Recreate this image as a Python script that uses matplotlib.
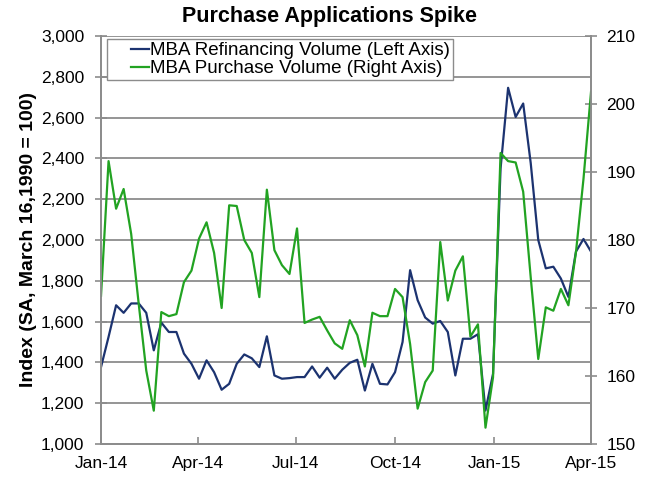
import datetime as dt

import matplotlib as mplt
mplt.use("Agg")
import matplotlib.pyplot as plt
import matplotlib.dates as mdates
from matplotlib.ticker import FuncFormatter

mplt.rcParams["font.family"] = ["Liberation Sans", "DejaVu Sans"]

# weekly index values, Jan 2014 - Apr 2015
start = dt.date(2014, 1, 1)
weeks = [start + dt.timedelta(days=7 * i) for i in range(66)]

refi = [1377, 1525, 1680, 1643, 1689, 1689, 1643, 1459, 1595, 1549,
        1549, 1443, 1393, 1320, 1410, 1352, 1266, 1295, 1393, 1439,
        1420, 1377, 1528, 1336, 1320, 1323, 1328, 1328, 1380, 1325,
        1374, 1320, 1364, 1398, 1413, 1262, 1393, 1295, 1292, 1352,
        1500, 1852, 1705, 1620, 1590, 1603, 1549, 1336, 1516, 1516,
        1538, 1164, 1344, 2350, 2746, 2603, 2669, 2377, 2000, 1861,
        1869, 1811, 1721, 1943, 2005, 1943]

purchase = [171.8, 191.6, 184.6, 187.5, 180.9, 170.6, 160.8, 154.9, 169.4, 168.8,
            169.1, 173.8, 175.5, 180.2, 182.6, 178.1, 170.0, 185.1, 185.0, 180.0,
            178.1, 171.6, 187.4, 178.5, 176.3, 175.0, 181.7, 167.8, 168.3, 168.7,
            166.7, 164.8, 164.0, 168.2, 166.0, 161.4, 169.3, 168.8, 168.8, 172.8,
            171.6, 164.7, 155.2, 159.1, 160.8, 179.7, 171.1, 175.5, 177.6, 165.8,
            167.6, 152.4, 159.8, 192.8, 191.6, 191.4, 187.1, 174.5, 162.5, 170.1,
            169.6, 172.8, 170.4, 178.2, 189.0, 201.8]

x_ticks = [dt.date(2014, 1, 1), dt.date(2014, 4, 1), dt.date(2014, 7, 1),
           dt.date(2014, 10, 1), dt.date(2015, 1, 1), dt.date(2015, 4, 1)]

blue = "#1c3370"
green = "#22a322"
grey = "#8c8c8c"

fig = plt.figure(figsize=(6.53, 4.87), dpi=100)
ax1 = fig.add_axes([0.1547, 0.0883, 0.7504, 0.8378])
ax2 = ax1.twinx()

l1, = ax1.plot(weeks, refi, color=blue, linewidth=1.6,
               label="MBA Refinancing Volume (Left Axis)")
l2, = ax2.plot(weeks, purchase, color=green, linewidth=1.6,
               label="MBA Purchase Volume (Right Axis)")

# left axis
ax1.set_ylim(1000, 3000)
ax1.set_yticks(range(1000, 3001, 200))
ax1.yaxis.set_major_formatter(FuncFormatter(lambda v, p: "{:,.0f}".format(v)))
ax1.grid(axis="y", color=grey, linewidth=1.3)
ax1.set_axisbelow(True)
ax1.set_ylabel("Index (SA, March 16,1990 = 100)", fontsize=14,
               fontweight="bold", labelpad=3)

# right axis
ax2.set_ylim(150, 210)
ax2.set_yticks(range(150, 211, 10))

# x axis
ax1.set_xlim(weeks[0], weeks[-1])
ax1.set_xticks(x_ticks)
ax1.xaxis.set_major_formatter(mdates.DateFormatter("%b-%y"))

for ax in (ax1, ax2):
    for side in ("left", "right", "bottom"):
        ax.spines[side].set_color(grey)
        ax.spines[side].set_linewidth(1.3)
    ax.spines["top"].set_visible(False)
    ax.tick_params(axis="both", labelsize=12.5, color=grey, width=1.2)
ax1.tick_params(axis="y", direction="inout", length=8, pad=8)
ax2.tick_params(axis="y", direction="inout", length=8, pad=7)
ax1.tick_params(axis="x", direction="in", length=5, pad=9)

# title is centred on the figure, not the plot area
fig.text(0.505, 1 - 22 / 487, "Purchase Applications Spike", fontsize=15.5,
         fontweight="bold", ha="center", va="baseline")

leg = ax2.legend(handles=[l1, l2], loc="upper left", fontsize=13.5,
                 handlelength=2.1, handletextpad=0.05, borderpad=0.15,
                 labelspacing=0.05, fancybox=False, framealpha=1,
                 borderaxespad=0, bbox_to_anchor=(0.012, 0.992))
leg.get_frame().set_edgecolor(grey)
leg.get_frame().set_linewidth(1.0)
# legend keys are short dashes sitting right against the text
for line in leg.get_lines():
    xs = list(line.get_xdata())
    ys = list(line.get_ydata())
    x0, x1 = xs[0], xs[-1]
    line.set_data([x0 + 0.55 * (x1 - x0), x1], [ys[0], ys[-1]])

plt.savefig("out.png", dpi=100)
